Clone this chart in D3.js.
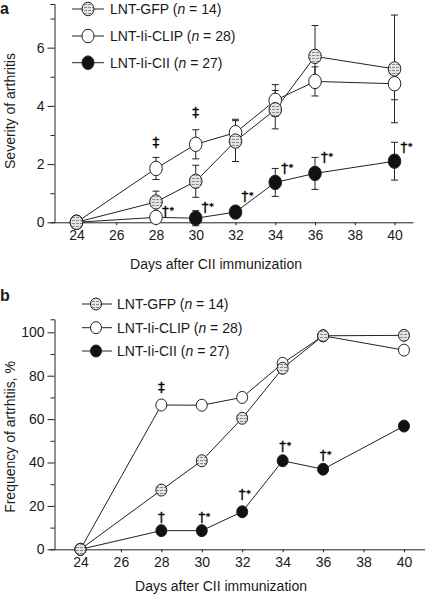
<!DOCTYPE html>
<html>
<head>
<meta charset="utf-8">
<script src="https://cdn.jsdelivr.net/npm/d3@7"></script>
<style>
  html, body { margin: 0; padding: 0; background: #fff; }
  svg { display: block; }
  text { font-family: "Liberation Sans", Arial, Helvetica, sans-serif; fill: #1a1a1a; }
  text.mark { font-family: "DejaVu Sans", "Liberation Sans", sans-serif; fill: #000; stroke: #000; stroke-width: 0.3px; }
</style>
</head>
<body>
<svg id="chart" width="425" height="595"></svg>
<script>
// ---------------- DATA ----------------
const days = [24, 28, 30, 32, 34, 36, 40];
const xTickValues = [24, 26, 28, 30, 32, 34, 36, 38, 40];

const seriesNames = ["LNT-GFP", "LNT-Ii-CLIP", "LNT-Ii-CII"];
const seriesN = [14, 28, 27];

// Panel a: severity of arthritis (mean ± SEM)
const severityGFP     = [0, 0.70, 1.41, 2.79, 3.87, 5.70, 5.27];
const severityGFPErr  = [0, 0.37, 0.55, 0.70, 0.66, 1.06, 1.85];
const severityCLIP    = [0, 1.85, 2.68, 3.08, 4.19, 4.84, 4.76];
const severityCLIPErr = [0, 0.38, 0.50, 0.46, 0.54, 0.50, 0.55];
const severityCII     = [0, 0.17, 0.14, 0.35, 1.37, 1.68, 2.10];
const severityCIIErr  = [0, 0.05, 0.26, 0.10, 0.48, 0.55, 0.65];
const severityMajorTicks = [0, 2, 4, 6];
const severityMinorTicks = [1, 3, 5, 7];

// Panel b: frequency of arthritis, %
const freqGFP  = [0, 27.3, 40.8, 60.4, 83.4, 98.4, 98.6];
const freqCLIP = [0, 66.5, 66.4, 70.0, 85.7, 98.4, 91.8];
const freqCII  = [0, 8.6, 8.6, 17.3, 40.8, 36.9, 56.8];
const freqMajorTicks = [0, 20, 40, 60, 80, 100];
const freqMinorTicks = [10, 30, 50, 70, 90];

// significance marks: [day, value where mark sits, symbol, star]
const severityMarks = [
  [28, 2.76, "‡", false], [30, 3.79, "‡", false],
  [28, 0.39, "†", true], [30, 0.51, "†", true], [32, 0.90, "†", true],
  [34, 1.88, "†", true], [36, 2.24, "†", true], [40, 2.59, "†", true]
];
const freqMarks = [
  [28, 74.6, "‡", false], [28, 14.9, "†", false], [30, 14.9, "†", true],
  [32, 25.3, "†", true], [34, 47.4, "†", true], [36, 43.5, "†", true]
];

// ---------------- DRAWING ----------------
const svg = d3.select("#chart");
const defs = svg.append("defs");
const pat = defs.append("pattern").attr("id", "hatch")
  .attr("patternUnits", "userSpaceOnUse").attr("width", 4).attr("height", 3);
pat.append("rect").attr("width", 4).attr("height", 3).attr("fill", "#e4e4e4");
pat.append("rect").attr("y", 1).attr("width", 3).attr("height", 1).attr("fill", "#8c8c8c");

const fills = ["url(#hatch)", "#fff", "#111"];

function drawPanel(cfg) {
  const g = svg.append("g");
  const x = d3.scaleLinear().domain(cfg.xDomain).range(cfg.xRange);
  const y = d3.scaleLinear().domain(cfg.yDomain).range(cfg.yRange);

  // x axis
  const xa = g.append("g").attr("transform", `translate(0,${y(0)})`)
    .call(d3.axisBottom(x).tickValues(xTickValues).tickSize(3).tickSizeOuter(0).tickPadding(5));
  xa.selectAll("text").style("font-size", "14px");
  xa.selectAll("path,line").attr("stroke", "#222");

  // y axis minor + domain
  const ya2 = g.append("g").attr("transform", `translate(${cfg.yAxisX},0)`)
    .call(d3.axisLeft(y).tickValues(cfg.minor).tickSize(4).tickSizeOuter(4).tickFormat(""));
  ya2.selectAll("path,line").attr("stroke", "#222");
  // y axis major
  const ya = g.append("g").attr("transform", `translate(${cfg.yAxisX},0)`)
    .call(d3.axisLeft(y).tickValues(cfg.major).tickSize(7).tickPadding(3));
  ya.select(".domain").remove();
  ya.selectAll("line").attr("stroke", "#222");
  ya.selectAll("text").style("font-size", "14px");

  // axis titles
  g.append("text").attr("x", cfg.xTitlePos[0]).attr("y", cfg.xTitlePos[1])
    .attr("text-anchor", "middle").style("font-size", "14px").text("Days after CII immunization");
  g.append("text").attr("transform", `translate(${cfg.yTitlePos[0]},${cfg.yTitlePos[1]}) rotate(-90)`)
    .attr("text-anchor", "middle").style("font-size", "14px").text(cfg.yTitle);

  // panel letter
  g.append("text").attr("x", 0).attr("y", cfg.letterY).style("font-size", "16px")
    .style("font-weight", "bold").text(cfg.letter);

  // error bars
  if (cfg.errs) {
    cfg.values.forEach((vals, si) => {
      const errs = cfg.errs[si];
      days.forEach((d, i) => {
        if (!errs[i] || errs[i] < 0.08) return;
        const cx = x(d), y1 = y(vals[i] + errs[i]), y2 = y(vals[i] - errs[i]);
        g.append("line").attr("x1", cx).attr("x2", cx).attr("y1", y1).attr("y2", y2)
          .attr("stroke", "#222").attr("stroke-width", 1);
        [y1, y2].forEach(yy => g.append("line").attr("x1", cx - 3.5).attr("x2", cx + 3.5)
          .attr("y1", yy).attr("y2", yy).attr("stroke", "#222").attr("stroke-width", 1));
      });
    });
  }

  // lines
  const line = d3.line().x((d, i) => x(days[i])).y(d => y(d));
  cfg.values.forEach(vals => {
    g.append("path").attr("d", line(vals)).attr("fill", "none")
      .attr("stroke", "#222").attr("stroke-width", 1);
  });

  // markers, order: CII, CLIP, GFP
  [2, 1, 0].forEach(si => {
    cfg.values[si].forEach((v, i) => {
      let fill = fills[si];
      if (cfg.openCII && si === 2 && days[i] === 28) fill = "#fff";
      g.append("ellipse").attr("cx", x(days[i])).attr("cy", y(v))
        .attr("rx", cfg.rx).attr("ry", cfg.ry)
        .attr("fill", fill).attr("stroke", "#222").attr("stroke-width", 1);
    });
  });

  // significance marks
  const mg = g.append("g").attr("class", "marks");
  cfg.marks.forEach(([d, v, sym, star]) => {
    const cy = y(v);
    const offset = (cfg.markOffset && sym === "†") ? cfg.markOffset : 0;
    const anchor = offset ? "start" : "middle";
    const cx = x(d) + offset;
    mg.append("text").attr("class", "mark").attr("x", cx).attr("y", cy + 5)
      .attr("text-anchor", anchor).style("font-size", "13.5px").text(sym);
    if (star) {
      const sx = anchor === "start" ? cx + 7.5 : cx + 4;
      mg.append("text").attr("class", "mark").attr("x", sx).attr("y", cy + 3)
        .style("font-size", "9px").text("*");
    }
  });

  // legend
  cfg.legendRows.forEach((ry, si) => {
    const lx = cfg.legendX;
    g.append("line").attr("x1", lx[0]).attr("x2", lx[2]).attr("y1", ry).attr("y2", ry)
      .attr("stroke", "#222").attr("stroke-width", 1);
    g.append("ellipse").attr("cx", lx[1]).attr("cy", ry).attr("rx", cfg.lrx).attr("ry", cfg.lry)
      .attr("fill", fills[si]).attr("stroke", "#222").attr("stroke-width", 1);
    const t = g.append("text").attr("x", lx[3]).attr("y", ry + 5).style("font-size", "14px");
    t.append("tspan").text(seriesNames[si] + " (");
    t.append("tspan").style("font-style", "italic").text("n");
    t.append("tspan").text(" = " + seriesN[si] + ")");
  });
}

// Panel a
drawPanel({
  letter: "a", letterY: 14,
  xDomain: [22.894, 40.93], xRange: [54.5, 413],
  yDomain: [0, 7.5], yRange: [222.3, 4],
  yAxisX: 54.5,
  major: severityMajorTicks, minor: severityMinorTicks,
  values: [severityGFP, severityCLIP, severityCII],
  errs: [severityGFPErr, severityCLIPErr, severityCIIErr],
  rx: 6.3, ry: 7.2, openCII: true,
  marks: severityMarks, markOffset: 6,
  xTitlePos: [216, 269], yTitlePos: [15, 111], yTitle: "Severity of arthritis",
  legendRows: [9, 36, 62.7], legendX: [72, 88, 104, 110], lrx: 6, lry: 6.8
});

// Panel b
drawPanel({
  letter: "b", letterY: 301,
  xDomain: [22.716, 41.04], xRange: [54.5, 425],
  yDomain: [0, 106], yRange: [549.3, 319.3],
  yAxisX: 54.5,
  major: freqMajorTicks, minor: freqMinorTicks,
  values: [freqGFP, freqCLIP, freqCII],
  errs: null,
  rx: 5.5, ry: 6, openCII: false,
  marks: freqMarks, markOffset: 0,
  xTitlePos: [221, 591], yTitlePos: [15, 437], yTitle: "Frequency of artrhtiis, %",
  legendRows: [304, 327.7, 351], legendX: [82, 96, 112, 117], lrx: 5.5, lry: 6
});
</script>
</body>
</html>
